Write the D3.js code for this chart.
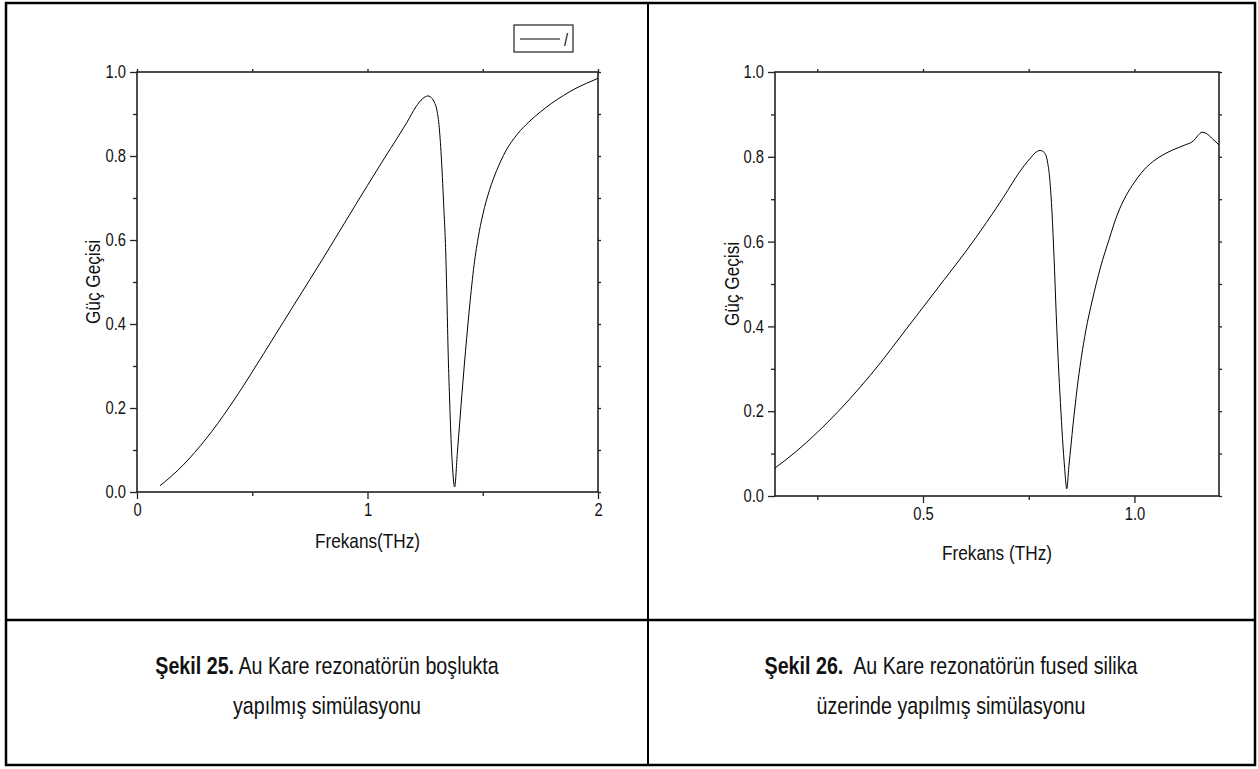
<!DOCTYPE html>
<html>
<head>
<meta charset="utf-8">
<script src="https://cdn.jsdelivr.net/npm/d3@7"></script>
<style>
  body { margin: 0; background: #fff; }
  svg text { fill: #111; font-family: "Liberation Sans", Arial, sans-serif; }
  .caption { font-size: 24px; white-space: pre; }
</style>
</head>
<body>
<div id="chart"></div>
<script>
  // Şekil 25 - vacuum
  const leftFreq = [0.1, 0.15, 0.2, 0.25, 0.3, 0.35, 0.4, 0.45, 0.5, 0.6, 0.7, 0.8, 0.9, 1.0, 1.1, 1.17, 1.21, 1.24, 1.262, 1.28, 1.29, 1.3, 1.31, 1.32, 1.33, 1.34, 1.345, 1.35, 1.355, 1.36, 1.365, 1.37, 1.375, 1.378, 1.39, 1.4, 1.41, 1.42, 1.43, 1.44, 1.45, 1.46, 1.48, 1.5, 1.53, 1.56, 1.6, 1.65, 1.7, 1.75, 1.8, 1.85, 1.9, 1.95, 2.0]
  const leftTrans = [0.015, 0.038, 0.064, 0.094, 0.127, 0.163, 0.202, 0.243, 0.286, 0.374, 0.462, 0.55, 0.64, 0.73, 0.818, 0.879, 0.917, 0.937, 0.943, 0.937, 0.928, 0.912, 0.875, 0.8, 0.69, 0.56, 0.45, 0.33, 0.24, 0.16, 0.095, 0.05, 0.018, 0.012, 0.095, 0.165, 0.235, 0.302, 0.365, 0.425, 0.48, 0.53, 0.605, 0.66, 0.72, 0.765, 0.812, 0.852, 0.881, 0.905, 0.926, 0.944, 0.96, 0.973, 0.985]

  // Şekil 26 - on fused silica
  const rightFreq = [0.15, 0.2, 0.25, 0.3, 0.35, 0.4, 0.45, 0.5, 0.55, 0.6, 0.65, 0.7, 0.72, 0.74, 0.755, 0.765, 0.777, 0.787, 0.795, 0.8, 0.805, 0.81, 0.815, 0.82, 0.825, 0.83, 0.835, 0.84, 0.845, 0.85, 0.855, 0.86, 0.867, 0.875, 0.885, 0.9, 0.92, 0.94, 0.96, 0.98, 1.0, 1.03, 1.06, 1.09, 1.12, 1.14, 1.15, 1.16, 1.17, 1.185, 1.2]
  const rightTrans = [0.066, 0.105, 0.15, 0.2, 0.255, 0.315, 0.38, 0.445, 0.51, 0.575, 0.645, 0.72, 0.752, 0.78, 0.798, 0.809, 0.815, 0.81, 0.785, 0.745, 0.67, 0.56, 0.43, 0.315, 0.22, 0.135, 0.065, 0.017, 0.07, 0.12, 0.17, 0.215, 0.274, 0.33, 0.39, 0.46, 0.54, 0.605, 0.665, 0.708, 0.74, 0.777, 0.8, 0.816, 0.828, 0.838, 0.85, 0.858, 0.855, 0.842, 0.828]

  const yTicks = [0, 0.2, 0.4, 0.6, 0.8, 1.0]
  const yMinor = [0.1, 0.3, 0.5, 0.7, 0.9]
  const leftXTicks = [0, 1, 2]
  const leftXMinor = [0.5, 1.5]
  const rightXTicks = [0.5, 1.0]
  const rightXMinor = [0.25, 0.75]

  const yTitle = "Güç Geçisi"
  const leftXTitle = "Frekans(THz)"
  const rightXTitle = "Frekans (THz)"
  const legendText = "/"

  const width = 1258, height = 769
  const narrow = 0.82   // squeeze to look like the condensed face of the original

  const svg = d3.select("#chart").append("svg")
    .attr("width", width)
    .attr("height", height)

  function drawPanel(o) {
    const x = d3.scaleLinear().domain(o.xDomain).range([o.left, o.right])
    const y = d3.scaleLinear().domain([0, 1]).range([o.bottom, o.top])
    const g = svg.append("g")

    const tidy = sel => {
      sel.select(".domain").remove()
      sel.selectAll("line").attr("stroke", "#222").attr("stroke-width", 1.3)
      sel.selectAll("text").attr("font-size", 18).attr("fill", "#111")
        .attr("font-family", "Liberation Sans, Arial, sans-serif")
        .attr("transform", `scale(${narrow},1)`)
    }

    g.append("g").attr("transform", `translate(0,${o.bottom})`)
      .call(d3.axisBottom(x).tickValues(o.xTicks).tickSize(7).tickPadding(4).tickFormat(o.xFormat))
      .call(tidy)
    g.append("g").attr("transform", `translate(0,${o.bottom})`)
      .call(d3.axisBottom(x).tickValues(o.xMinor).tickSize(4).tickFormat(""))
      .call(tidy)
    g.append("g").attr("transform", `translate(${o.left},0)`)
      .call(d3.axisLeft(y).tickValues(yTicks).tickSize(7).tickFormat(d3.format(".1f")))
      .call(tidy)
      .call(s => s.selectAll(".tick text").attr("x", -11 / narrow))
    g.append("g").attr("transform", `translate(${o.left},0)`)
      .call(d3.axisLeft(y).tickValues(yMinor).tickSize(4).tickFormat(""))
      .call(tidy)
    // mirror ticks on top and right
    g.append("g").attr("transform", `translate(0,${o.top})`)
      .call(d3.axisTop(x).tickValues(o.xTicks.concat(o.xMinor)).tickSize(3).tickFormat(""))
      .call(tidy)
    g.append("g").attr("transform", `translate(${o.right},0)`)
      .call(d3.axisRight(y).tickValues(yTicks.concat(yMinor)).tickSize(3).tickFormat(""))
      .call(tidy)

    g.append("rect")
      .attr("x", o.left).attr("y", o.top)
      .attr("width", o.right - o.left).attr("height", o.bottom - o.top)
      .attr("fill", "none").attr("stroke", "#222").attr("stroke-width", 1.6)

    const line = d3.line()
      .x(d => x(d[0]))
      .y(d => y(d[1]))
      .curve(d3.curveMonotoneX)

    g.append("path")
      .datum(d3.zip(o.freq, o.trans))
      .attr("fill", "none")
      .attr("stroke", "#000")
      .attr("stroke-width", 1)
      .attr("d", line)

    g.append("text")
      .attr("transform", `translate(${(o.left + o.right) / 2},${o.xTitleY}) scale(${narrow},1)`)
      .attr("text-anchor", "middle").attr("font-size", 21)
      .text(o.xTitle)
    g.append("text")
      .attr("transform", `translate(${o.yTitleX},${(o.top + o.bottom) / 2}) rotate(-90) scale(${narrow},1)`)
      .attr("text-anchor", "middle").attr("font-size", 21)
      .text(yTitle)

    return g
  }

  const leftPlot = drawPanel({
    left: 137, right: 598, top: 72, bottom: 492,
    xDomain: [0, 2], xTicks: leftXTicks, xMinor: leftXMinor, xFormat: d3.format("d"),
    freq: leftFreq, trans: leftTrans,
    xTitle: leftXTitle, xTitleY: 548, yTitleX: 100
  })

  drawPanel({
    left: 775, right: 1219, top: 72, bottom: 496,
    xDomain: [0.15, 1.2], xTicks: rightXTicks, xMinor: rightXMinor, xFormat: d3.format(".1f"),
    freq: rightFreq, trans: rightTrans,
    xTitle: rightXTitle, xTitleY: 560, yTitleX: 739
  })

  // legend of the left plot
  const legend = leftPlot.append("g")
  legend.append("rect")
    .attr("x", 514).attr("y", 25).attr("width", 59).attr("height", 27)
    .attr("fill", "#fff").attr("stroke", "#222").attr("stroke-width", 1.2)
  legend.append("line")
    .attr("x1", 520).attr("x2", 560).attr("y1", 39).attr("y2", 39)
    .attr("stroke", "#000").attr("stroke-width", 1)
  legend.append("text")
    .attr("transform", `translate(564,46) scale(${narrow},1)`)
    .attr("font-size", 18)
    .text(legendText)

  // table lines
  const table = svg.append("g").attr("stroke", "#000").attr("fill", "none")
  table.append("rect").attr("x", 6).attr("y", 3).attr("width", 1249).attr("height", 762).attr("stroke-width", 2.5)
  table.append("line").attr("x1", 648).attr("x2", 648).attr("y1", 3).attr("y2", 765).attr("stroke-width", 2)
  table.append("line").attr("x1", 6).attr("x2", 1255).attr("y1", 620).attr("y2", 620).attr("stroke-width", 2.5)

  // captions
  const captions = [
    { cx: 327, bold: "Şekil 25.", rest: " Au Kare rezonatörün boşlukta", line2: "yapılmış simülasyonu" },
    { cx: 951, bold: "Şekil 26.", rest: "  Au Kare rezonatörün fused silika", line2: "üzerinde yapılmış simülasyonu" }
  ]
  captions.forEach(c => {
    const t = svg.append("text").attr("class", "caption")
      .attr("transform", `translate(${c.cx},674) scale(${narrow},1)`)
      .attr("text-anchor", "middle")
    t.append("tspan").attr("font-weight", "bold").text(c.bold)
    t.append("tspan").text(c.rest)
    svg.append("text").attr("class", "caption")
      .attr("transform", `translate(${c.cx},714) scale(${narrow},1)`)
      .attr("text-anchor", "middle")
      .text(c.line2)
  })
</script>
</body>
</html>
